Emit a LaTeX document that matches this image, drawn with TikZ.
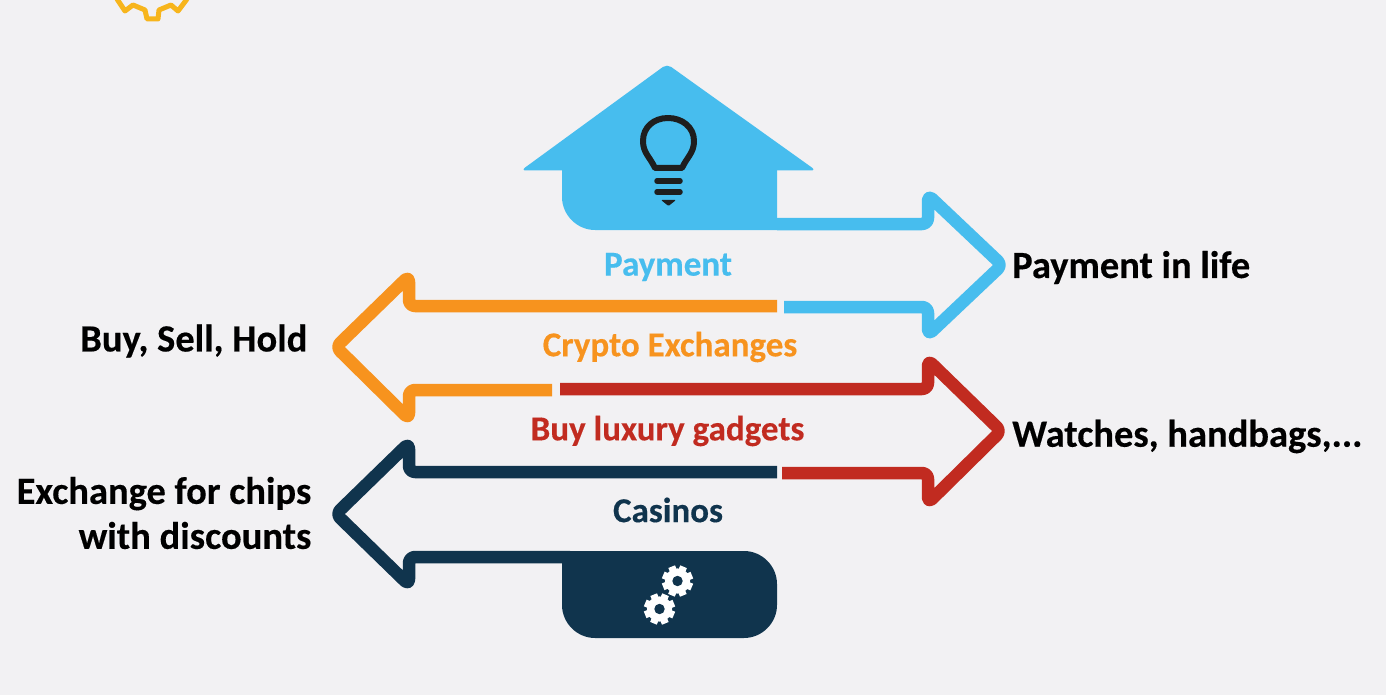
\documentclass[tikz,border=0pt]{standalone}
\usepackage{fontspec}
\setmainfont[BoldFeatures={FakeBold=0.3}]{Carlito}
\definecolor{bgc}{HTML}{F2F1F3}
\definecolor{bluec}{HTML}{47BDEE}
\definecolor{orangec}{HTML}{F7931E}
\definecolor{redc}{HTML}{C12B20}
\definecolor{navyc}{HTML}{10344D}
\definecolor{yellowc}{HTML}{F7B51C}
\definecolor{inkc}{HTML}{1E1E1E}
\tikzset{
  flow/.style={line width=12.5pt,line cap=butt,line join=round,rounded corners=6pt},
  lab/.style={font=\bfseries\fontsize{35}{40}\selectfont,inner sep=0pt,anchor=center},
  side/.style={font=\bfseries\fontsize{38.5}{45}\selectfont,text=black,inner sep=0pt},
}
\newcommand{\gearshape}[2]{%
  \foreach \a in {0,45,...,315}{\fill[white,rotate around={\a+22:(#1,#2)}] (#1-3.6,#2-15.5) rectangle (#1+3.6,#2);}
  \fill[white] (#1,#2) circle (12.6);
  \fill[navyc] (#1,#2) circle (5.2);
}
\begin{document}
\begin{tikzpicture}[x=1pt,y=-1pt]
\useasboundingbox (0,0) rectangle (1386,695);
\fill[bgc] (0,0) rectangle (1386,695);
% cropped gear
\begin{scope}
\clip (0,0) rectangle (1386,695);
\draw[yellowc,line width=5pt,line join=round] (117,-1) -- (125,11) -- (133,5) -- (145,10) -- (147,19) -- (158,19) -- (159,10) -- (171,5) -- (178,11) -- (187,-1);
\end{scope}
% house
\fill[bluec,rounded corners=5pt] (667,64) -- (816,170.5) -- (521,170.5) -- cycle;
\fill[bluec] (562,160) -- (777,160) -- (777,230) -- (595,230) .. controls (577,230) and (562,215) .. (562,197) -- cycle;
\fill[bluec] (777,218) rectangle (800,230);
% bulb
\draw[inkc,line width=6pt,line join=round] (655,168) .. controls (650,157) and (643,153) .. (643,141) .. controls (643,127) and (654,118) .. (668,118) .. controls (682,118) and (694,127) .. (694,141) .. controls (694,153) and (687,157) .. (682,168) -- cycle;
\draw[inkc,line width=5.5pt,line cap=round] (657,181) -- (680,181) (657,192) -- (680,192);
\fill[inkc,rounded corners=1pt] (661,200) -- (676,200) -- (668.5,206) -- cycle;
% arrows
\draw[flow,bluec] (777,224) -- (928,224) -- (928,195) -- (1002,265) -- (928,335) -- (928,307) -- (784,307);
\draw[flow,orangec] (777,306) -- (409,306) -- (409,276) -- (336,347) -- (409,419) -- (409,390) -- (552,390);
\draw[flow,redc] (560,389) -- (928,389) -- (928,360) -- (1001,431) -- (928,503) -- (928,473) -- (782,473);
\draw[flow,navyc] (777,472) -- (409,472) -- (409,443) -- (336,514) -- (409,585) -- (409,557) -- (570,557);
% box
\fill[navyc] (562,551) -- (744,551) .. controls (762,551) and (777,566) .. (777,584) -- (777,605) .. controls (777,623) and (762,638) .. (744,638) -- (595,638) .. controls (577,638) and (562,623) .. (562,605) -- cycle;
\gearshape{677.5}{581}
\gearshape{659.5}{609}
% labels
\node[lab,text=bluec] (payment) at (668,267) {Payment};
\node[lab,text=orangec] (crypto) at (670,347) {Crypto Exchanges};
\node[lab,text=redc] (luxury) at (667.5,431) {Buy luxury gadgets};
\node[lab,text=navyc] (casinos) at (668,510) {Casinos};
\node[side,anchor=west] (life) at (1012,267.5) {Payment in life};
\node[side,anchor=west] (watches) at (1012,436.5) {Watches, handbags,...};
\node[side,anchor=east] (hold) at (307.5,341) {Buy, Sell, Hold};
\node[side,anchor=east,align=right] (chips) at (311.5,513) {Exchange for chips\\with discounts};
\end{tikzpicture}
\end{document}
